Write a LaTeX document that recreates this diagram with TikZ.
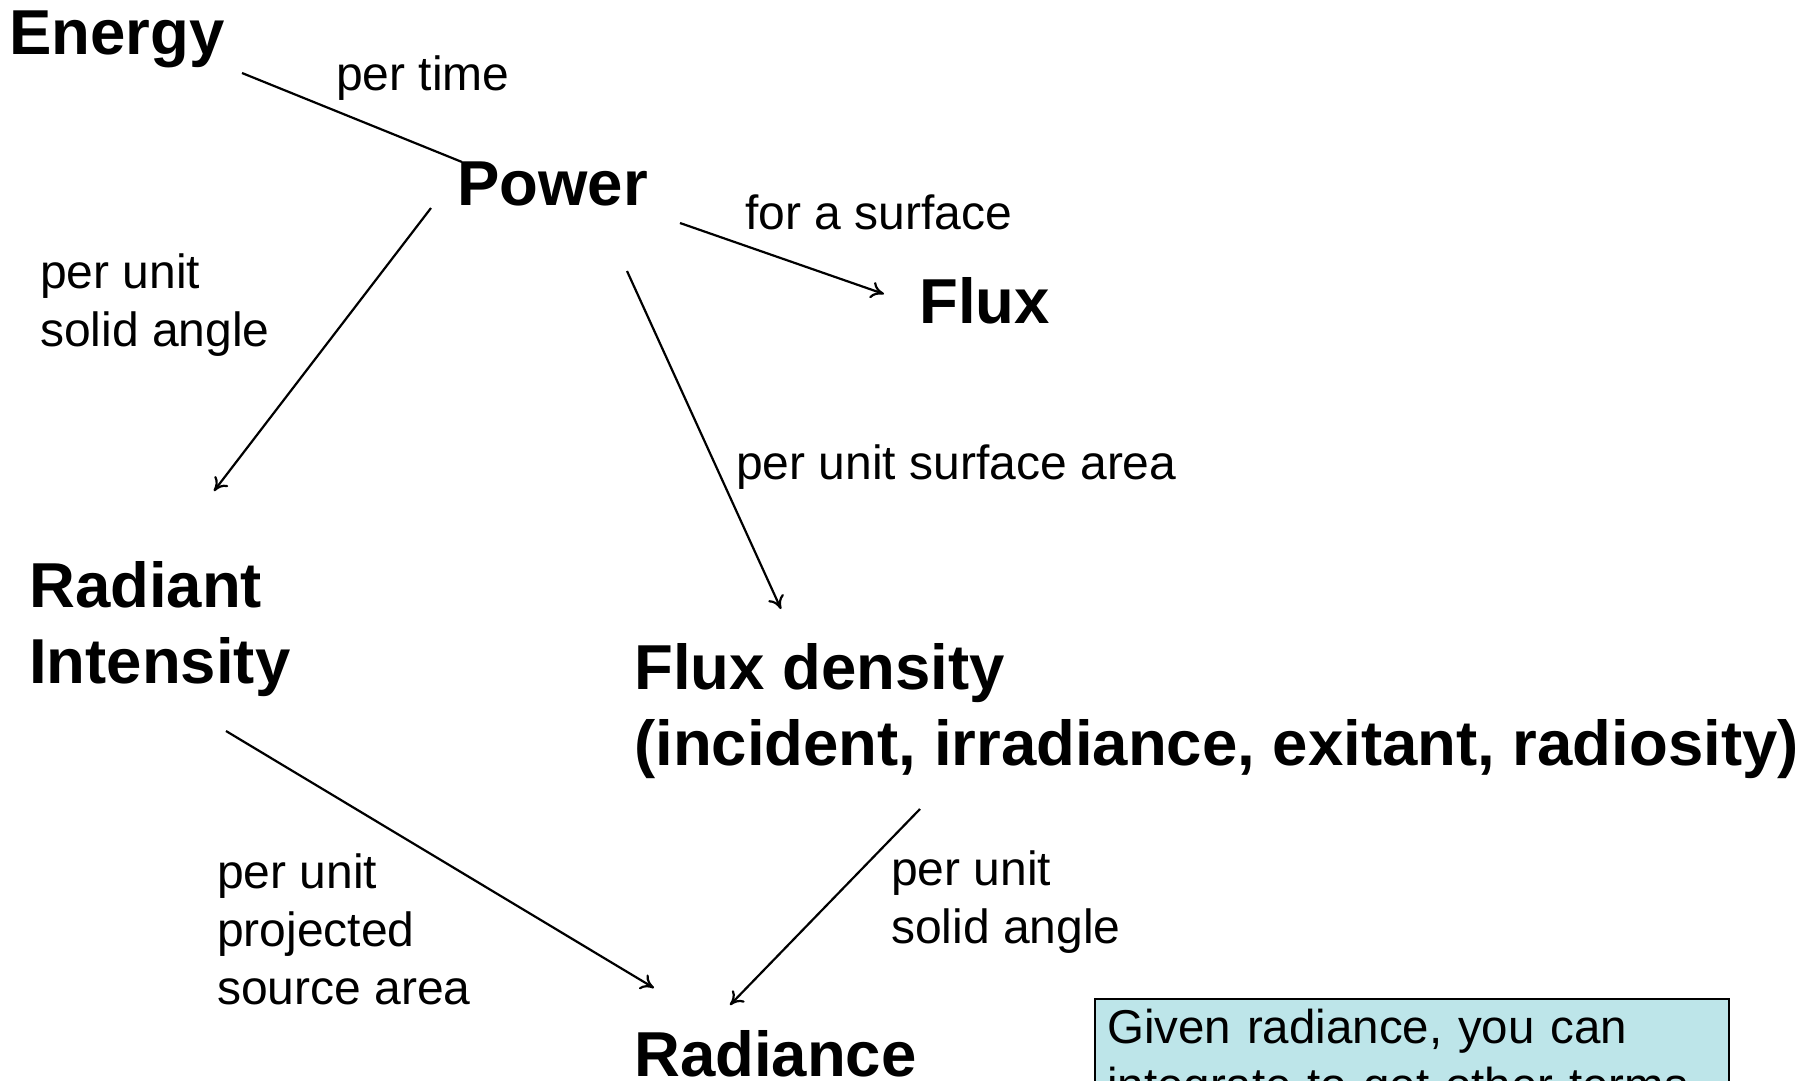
\documentclass[tikz,border=0pt]{standalone}
\usepackage{fontspec}
\setmainfont{Liberation Sans}
\usetikzlibrary{arrows.meta,calc}
\definecolor{notefill}{RGB}{189,229,233}
\tikzset{
  term/.style={font=\fontsize{63.5}{76}\selectfont\bfseries, inner sep=0pt, anchor=base west, align=left},
  lbl/.style={font=\fontsize{48}{58}\selectfont, inner sep=0pt, anchor=base west, align=left},
  link/.style={line width=2.2pt},
  arr/.style={line width=2.2pt, -{To[length=13pt,width=17pt]}},
  notebox/.style={draw, line width=2.2pt, fill=notefill, font=\fontsize{47.5}{58}\selectfont,
    anchor=north west, align=left, text width=610pt, inner xsep=12pt, inner ysep=10pt}
}
\begin{document}
\begin{tikzpicture}[x=1pt,y=-1pt]
\useasboundingbox (0,0) rectangle (1810,1080);
\node[term] (energy) at (9,54) {Energy};
\node[term] (power) at (457,205) {Power};
\node[term] (flux) at (919,323) {Flux};
\node[term] (radint) at (29,683) {Radiant\\Intensity};
\node[term] (fluxd) at (634,765) {Flux density\\(incident, irradiance, exitant, radiosity)};
\node[term] (radiance) at (634,1076) {Radiance};

\node[lbl] (l1) at (336,90) {per time};
\node[lbl] (l2) at (745,229) {for a surface};
\node[lbl] (l3) at (40,346) {per unit\\solid angle};
\node[lbl] (l4) at (736,479) {per unit surface area};
\node[lbl] (l5) at (217,1004) {per unit\\projected\\source area};
\node[lbl] (l6) at (891,943) {per unit\\solid angle};

\node[notebox] (note) at (1094,998) {Given radiance, you can\\integrate to get other terms};

\draw[link] ($(energy.base west)+(233,19)$) -- ($(power.base west)+(5,-43)$);
\draw[arr] ($(power.base west)+(-26,3)$) -- ($(radint.base west)+(185,-192)$);
\draw[arr] ($(power.base west)+(223,18)$) -- ($(flux.base west)+(-35,-29)$);
\draw[arr] ($(power.base west)+(170,66)$) -- ($(fluxd.base west)+(147,-156)$);
\draw[arr] ($(radint.base west)+(197,48)$) -- ($(radiance.base west)+(20,-88)$);
\draw[arr] ($(fluxd.base west)+(286,44)$) -- ($(radiance.base west)+(96,-71)$);
\end{tikzpicture}
\end{document}
